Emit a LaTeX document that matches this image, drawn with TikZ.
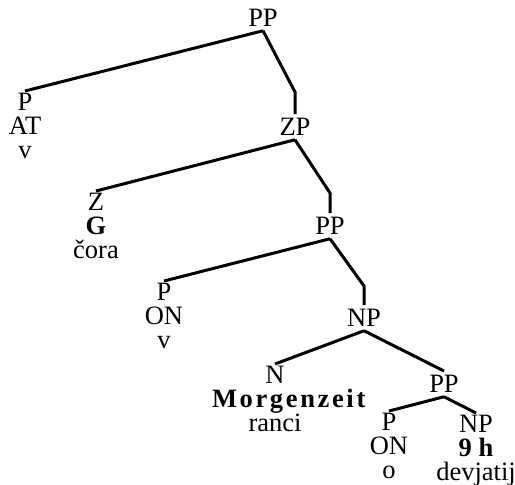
\documentclass[tikz,border=0pt]{standalone}
\usepackage{fontspec}
\setmainfont{Liberation Serif}
\usepackage{tikz}
\usetikzlibrary{positioning, calc}

\tikzset{
    phrase/.style={anchor=north, inner xsep=1pt, inner ysep=4pt, font=\fontsize{26.5}{24}\selectfont},
    leaf/.style={anchor=north, inner xsep=1pt, inner ysep=2pt, align=center, font=\fontsize{26.5}{24}\selectfont},
    branch/.style={line width=3pt, line join=miter}
}

\begin{document}
\begin{tikzpicture}[x=1pt, y=-1pt]
    \useasboundingbox (0,0) rectangle (515,485);

    % Phrase nodes (spine)
    \node[phrase] (pp0) at (263,5) {PP};
    \node[phrase] (zp) at (295,114) {ZP};
    \node[phrase] (pp1) at (330,213) {PP};
    \node[phrase] (np0) at (364,305) {NP};
    \node[phrase] (pp2) at (444,371) {PP};

    % Leaves: category, form, gloss
    \node[leaf] (pat) at (25,91) {P\\AT\\v};
    \node[leaf] (zg) at (96,191) {Z\\\textbf{G}\\čora};
    \node[leaf] (pon) at (164,281) {P\\ON\\v};
    \node[leaf] (nm) at (275,364) {N\\\textbf{\addfontfeature{LetterSpace=10}Morgenzeit}\kern-30pt\\ranci};
    \node[leaf] (pono) at (389,411) {P\\ON\\o};
    \node[leaf] (npd) at (476,413) {NP\\\textbf{9 h}\\devjatij};

    % Bends on the right branches
    \coordinate (b0) at (295,92);
    \coordinate (b1) at (330,193);
    \coordinate (b2) at (364,286);

    % Branches
    \draw[branch] (pp0.south) -- (pat.north);
    \draw[branch] (pp0.south) -- (b0) -- (zp.north);
    \draw[branch] (zp.south) -- (zg.north);
    \draw[branch] (zp.south) -- (b1) -- (pp1.north);
    \draw[branch] (pp1.south) -- (pon.north);
    \draw[branch] (pp1.south) -- (b2) -- (np0.north);
    \draw[branch] (np0.south) -- (nm.north);
    \draw[branch] (np0.south) -- (pp2.north);
    \draw[branch] (pp2.south) -- (pono.north);
    \draw[branch] (pp2.south) -- (npd.north);

\end{tikzpicture}
\end{document}
